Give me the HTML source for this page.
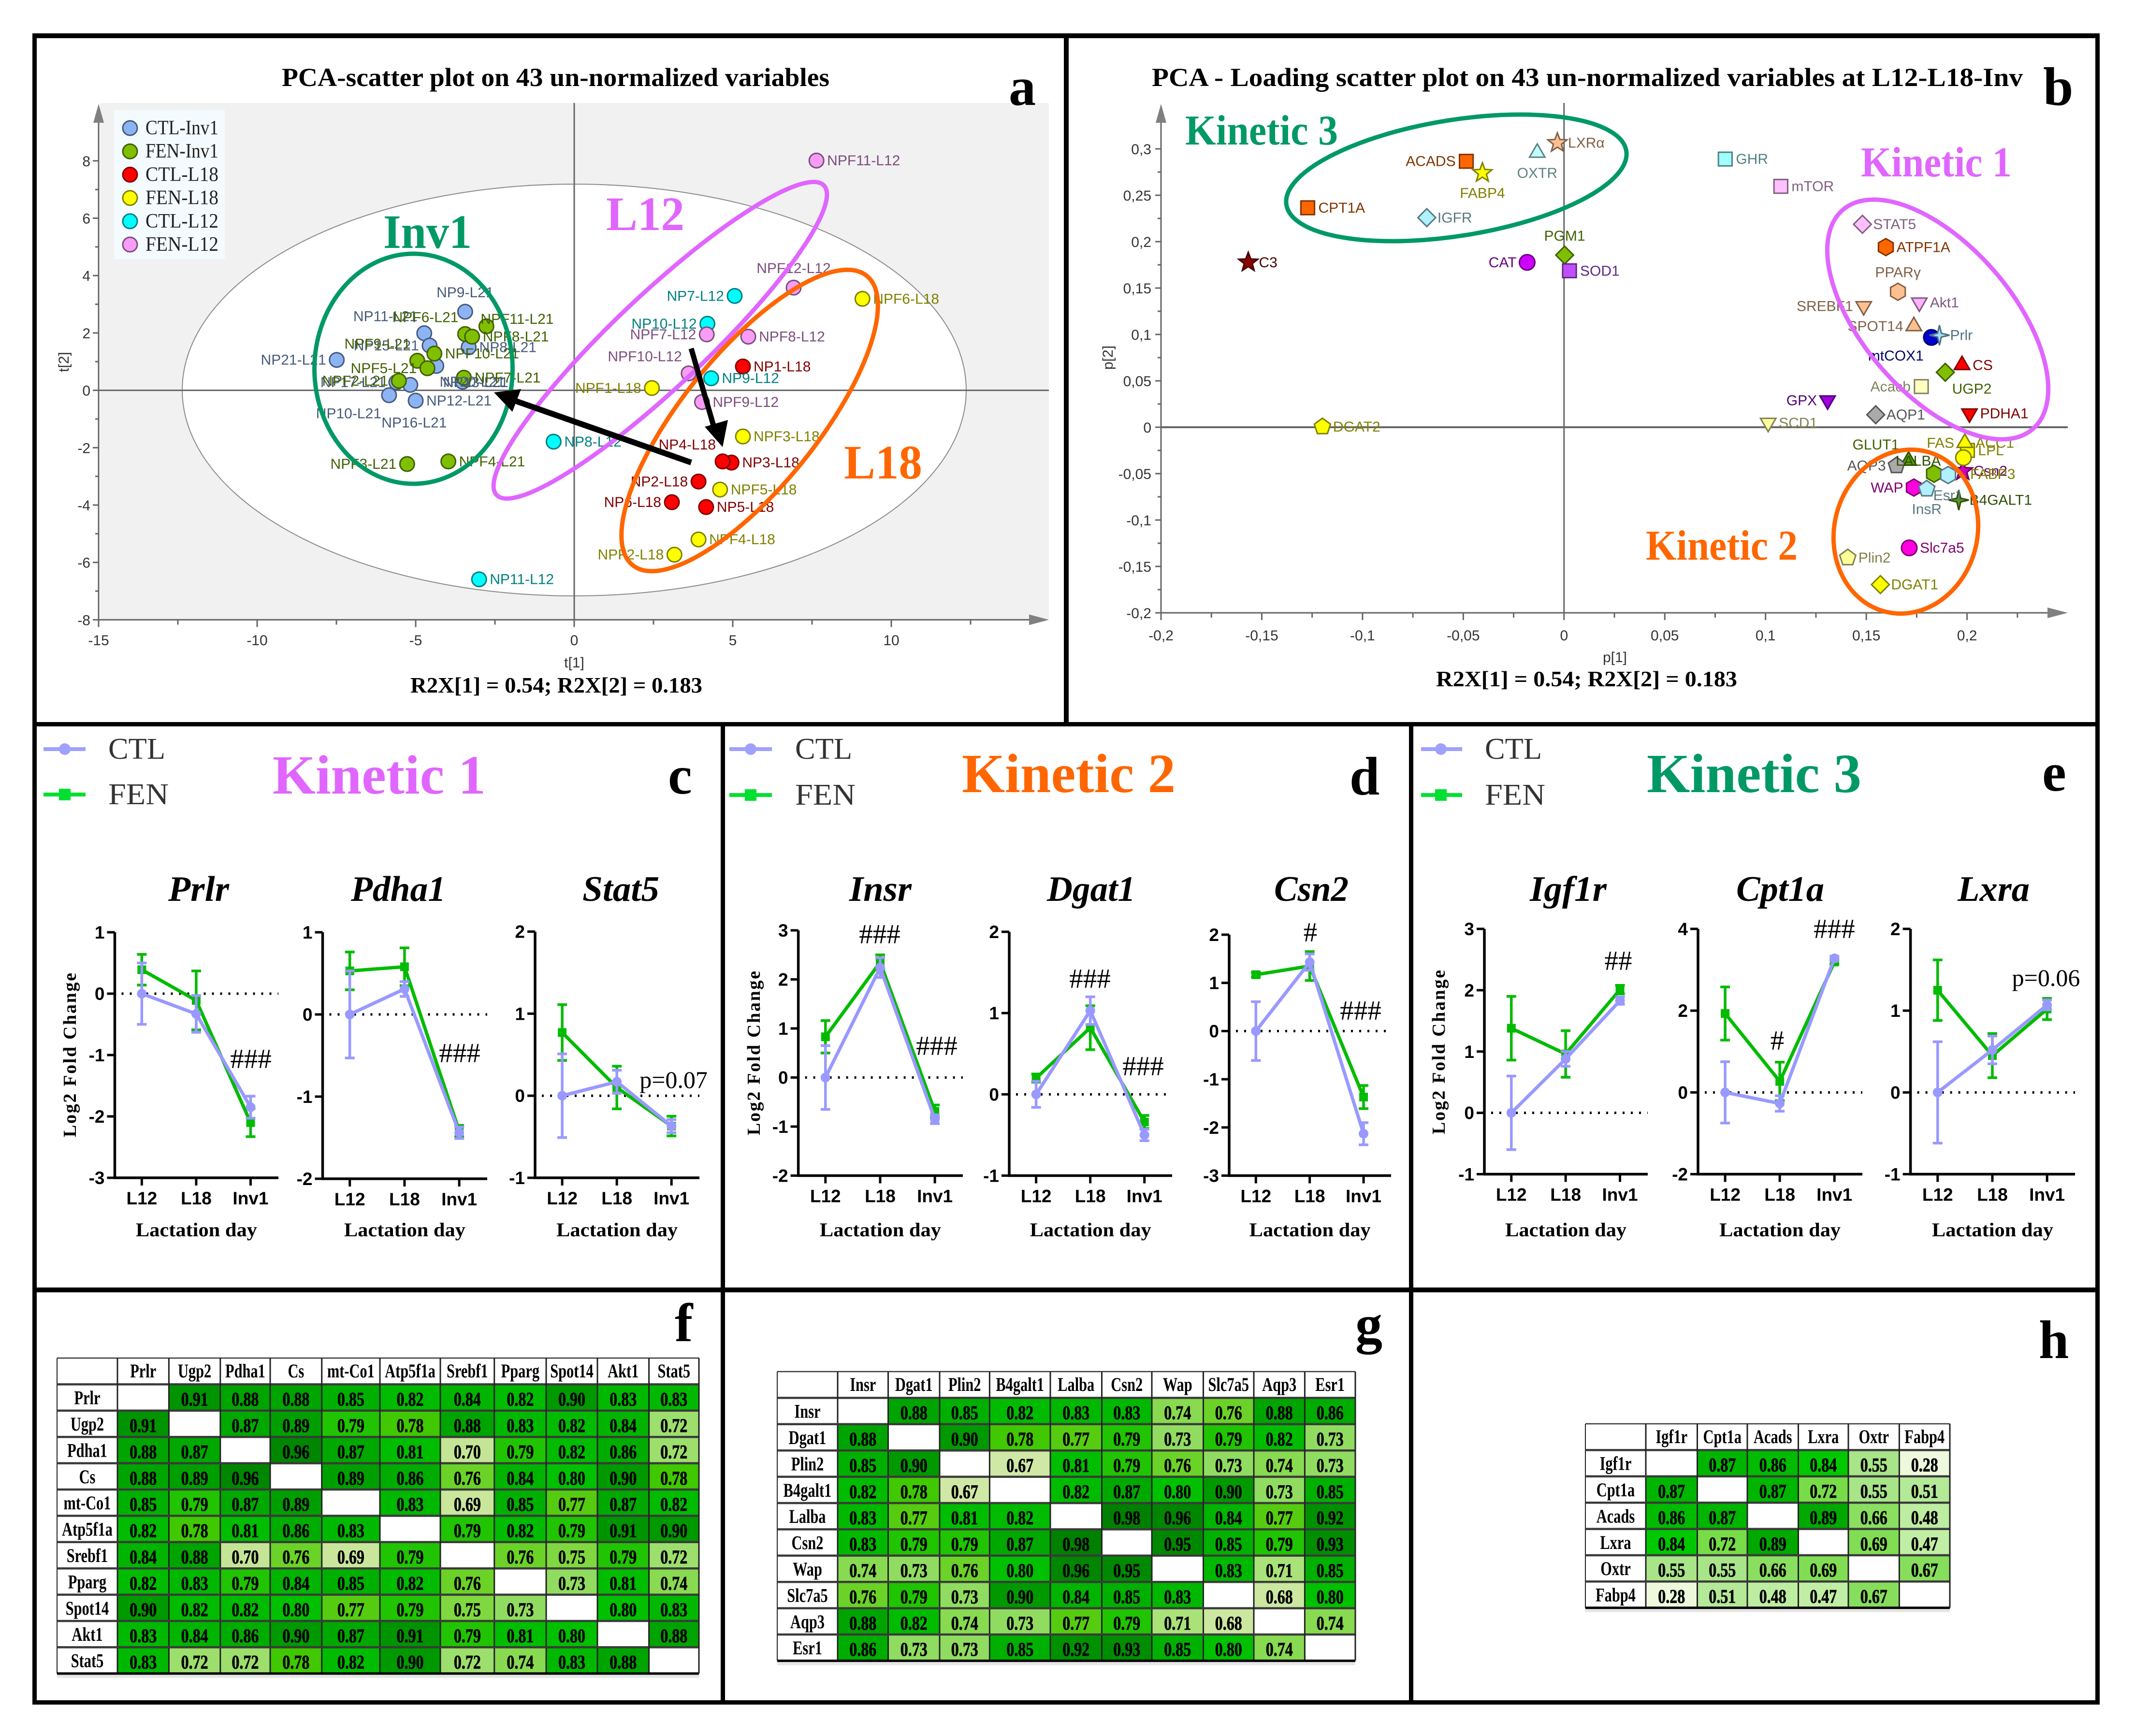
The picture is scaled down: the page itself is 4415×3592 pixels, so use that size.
<!DOCTYPE html>
<html lang="en">
<head>
<meta charset="utf-8">
<title>PCA scatter, kinetics and correlation figure</title>
<style>
html,body{margin:0;padding:0;background:#fff}
svg{display:block}
.serif{font-family:"Liberation Serif",serif}
.sans{font-family:"Liberation Sans",sans-serif}
.b{font-weight:bold}
.bi{font-weight:bold;font-style:italic}
</style>
</head>
<body>
<svg id="figure" xmlns="http://www.w3.org/2000/svg" width="4415" height="3592" viewBox="0 0 4415 3592">
<rect x="0" y="0" width="4415" height="3592" fill="#fff"/>

<g id="panelA">
  <rect x="207" y="213" width="1963" height="1069" fill="#f1f1f1"/>
  <ellipse cx="1188" cy="807" rx="811" ry="426" fill="#fff" stroke="#8a8a8a" stroke-width="2"/>
  <g id="scoreAxes"></g>
  <g id="scorePoints"></g>
  <ellipse cx="855.5" cy="763" rx="205" ry="238" fill="none" stroke="#009966" stroke-width="9"/>
  <ellipse cx="1366" cy="704" rx="466" ry="95" transform="rotate(-43.4 1366 704)" fill="none" stroke="#e066ff" stroke-width="9"/>
  <ellipse cx="1551" cy="870" rx="385" ry="139" transform="rotate(-51 1551 870)" fill="none" stroke="#ff6600" stroke-width="9"/>
  <g>
    <line x1="1430" y1="957" x2="1062" y2="828" stroke="#000" stroke-width="12"/>
    <polygon points="1022,812 1078,805 1060,852" fill="#000"/>
  </g>
  <g>
    <line x1="1430" y1="721" x2="1476" y2="880" stroke="#000" stroke-width="11"/>
    <polygon points="1495,925 1458,883 1506,869" fill="#000"/>
  </g>
  <g id="scoreLegend">
    <rect x="236" y="228" width="229" height="308" fill="#f4fbff"/>
  </g>
  <text class="serif b" x="583" y="178" font-size="54" textLength="1133" lengthAdjust="spacingAndGlyphs">PCA-scatter plot on 43 un-normalized variables</text>
  <text class="serif b" x="793" y="513" font-size="100" fill="#009966" textLength="183" lengthAdjust="spacingAndGlyphs">Inv1</text>
  <text class="serif b" x="1254" y="476" font-size="100" fill="#e066ff" textLength="162" lengthAdjust="spacingAndGlyphs">L12</text>
  <text class="serif b" x="1746" y="990" font-size="100" fill="#ff6600" textLength="162" lengthAdjust="spacingAndGlyphs">L18</text>
  <text class="serif b" x="2087" y="217" font-size="112">a</text>
  <text class="serif b" x="849" y="1433" font-size="46" textLength="604" lengthAdjust="spacingAndGlyphs">R2X[1] = 0.54; R2X[2] = 0.183</text>
</g>

<g id="panelB">
  <g id="loadingAxes"></g>
  <g id="loadingPoints"></g>
  <ellipse cx="3013" cy="368" rx="356" ry="120" transform="rotate(-9 3013 368)" fill="none" stroke="#009966" stroke-width="9"/>
  <ellipse cx="4009" cy="661" rx="300" ry="154" transform="rotate(49 4009 661)" fill="none" stroke="#e066ff" stroke-width="9"/>
  <ellipse cx="3943" cy="1100" rx="148" ry="171" transform="rotate(15 3943 1100)" fill="none" stroke="#ff6600" stroke-width="9"/>
  <text class="serif b" x="2383" y="178" font-size="54" textLength="1802" lengthAdjust="spacingAndGlyphs">PCA - Loading scatter plot on 43 un-normalized variables at L12-L18-Inv</text>
  <text class="serif b" x="2452" y="299" font-size="88" fill="#009966" textLength="316" lengthAdjust="spacingAndGlyphs">Kinetic 3</text>
  <text class="serif b" x="3850" y="365" font-size="88" fill="#e066ff" textLength="312" lengthAdjust="spacingAndGlyphs">Kinetic 1</text>
  <text class="serif b" x="3405" y="1158" font-size="88" fill="#ff6600" textLength="314" lengthAdjust="spacingAndGlyphs">Kinetic 2</text>
  <text class="serif b" x="4227" y="217" font-size="112">b</text>
  <text class="serif b" x="2971" y="1420" font-size="46" textLength="623" lengthAdjust="spacingAndGlyphs">R2X[1] = 0.54; R2X[2] = 0.183</text>
</g>

<g id="panelC">
  <g>
    <line x1="90" y1="1550" x2="177" y2="1550" stroke="#a0a0ff" stroke-width="8"/>
    <circle cx="134" cy="1550" r="12" fill="#a0a0ff"/>
    <text class="serif" x="224" y="1570" font-size="62" fill="#333" textLength="118" lengthAdjust="spacingAndGlyphs">CTL</text>
    <line x1="90" y1="1644" x2="177" y2="1644" stroke="#00e030" stroke-width="8"/>
    <rect x="122" y="1632" width="24" height="24" fill="#00e030"/>
    <text class="serif" x="224" y="1664" font-size="62" fill="#333" textLength="125" lengthAdjust="spacingAndGlyphs">FEN</text>
  </g>
  <text class="serif b" x="564" y="1642" font-size="114" fill="#e066ff" textLength="441" lengthAdjust="spacingAndGlyphs">Kinetic 1</text>
  <text class="serif b" x="1382" y="1642" font-size="112">c</text>
  <text class="serif b" transform="translate(157 2353) rotate(-90)" font-size="38" textLength="340" lengthAdjust="spacing">Log2 Fold Change</text>
</g>
<g id="panelD">
  <g>
    <line x1="1509" y1="1550" x2="1597" y2="1550" stroke="#a0a0ff" stroke-width="8"/>
    <circle cx="1553" cy="1550" r="12" fill="#a0a0ff"/>
    <text class="serif" x="1645" y="1570" font-size="62" fill="#333" textLength="118" lengthAdjust="spacingAndGlyphs">CTL</text>
    <line x1="1509" y1="1645" x2="1597" y2="1645" stroke="#00e030" stroke-width="8"/>
    <rect x="1541" y="1633" width="24" height="24" fill="#00e030"/>
    <text class="serif" x="1645" y="1665" font-size="62" fill="#333" textLength="125" lengthAdjust="spacingAndGlyphs">FEN</text>
  </g>
  <text class="serif b" x="1990" y="1639" font-size="114" fill="#ff6600" textLength="442" lengthAdjust="spacingAndGlyphs">Kinetic 2</text>
  <text class="serif b" x="2792" y="1644" font-size="112">d</text>
  <text class="serif b" transform="translate(1572 2349) rotate(-90)" font-size="38" textLength="340" lengthAdjust="spacing">Log2 Fold Change</text>
</g>
<g id="panelE">
  <g>
    <line x1="2940" y1="1550" x2="3025" y2="1550" stroke="#a0a0ff" stroke-width="8"/>
    <circle cx="2981" cy="1550" r="12" fill="#a0a0ff"/>
    <text class="serif" x="3072" y="1570" font-size="62" fill="#333" textLength="118" lengthAdjust="spacingAndGlyphs">CTL</text>
    <line x1="2940" y1="1645" x2="3025" y2="1645" stroke="#00e030" stroke-width="8"/>
    <rect x="2969" y="1633" width="24" height="24" fill="#00e030"/>
    <text class="serif" x="3072" y="1665" font-size="62" fill="#333" textLength="125" lengthAdjust="spacingAndGlyphs">FEN</text>
  </g>
  <text class="serif b" x="3407" y="1639" font-size="114" fill="#009966" textLength="444" lengthAdjust="spacingAndGlyphs">Kinetic 3</text>
  <text class="serif b" x="4225" y="1636" font-size="112">e</text>
  <text class="serif b" transform="translate(2989 2347) rotate(-90)" font-size="38" textLength="340" lengthAdjust="spacing">Log2 Fold Change</text>
</g>
<g id="lineCharts"></g>

<g id="heatmaps"></g>
<text class="serif b" x="1396" y="2775" font-size="112">f</text>
<text class="serif b" x="2804" y="2778" font-size="112">g</text>
<text class="serif b" x="4218" y="2810" font-size="112">h</text>

<g fill="#000">
  <rect x="67" y="69" width="4277" height="10"/>
  <rect x="67" y="3518" width="4277" height="9"/>
  <rect x="67" y="69" width="9" height="3458"/>
  <rect x="4335" y="69" width="9" height="3458"/>
  <rect x="67" y="1494" width="4277" height="9"/>
  <rect x="67" y="2664" width="4277" height="10"/>
  <rect x="2201" y="69" width="10" height="1434"/>
  <rect x="1491" y="1494" width="9" height="2033"/>
  <rect x="2915" y="1494" width="9" height="2033"/>
</g>
</svg>

<script>
// ---------- Panel a: PCA scores ----------
const scoreGroupNames = ['CTL-Inv1','FEN-Inv1','CTL-L18','FEN-L18','CTL-L12','FEN-L12'];
const scoreNames = ['NP9-L21','NP11-L21','NP15-L21','NP8-L21','NP21-L21','NP13-L21','NP17-L21','NP16-L21','NP10-L21','NP12-L21','NP20-L21',
 'NPF6-L21','NPF11-L21','NPF8-L21','NPF10-L21','NPF9-L21','NPF5-L21','NPF2-L21','NPF7-L21','NPF3-L21','NPF4-L21',
 'NP1-L18','NP3-L18','NP4-L18','NP2-L18','NP6-L18','NP5-L18',
 'NPF1-L18','NPF6-L18','NPF3-L18','NPF5-L18','NPF4-L18','NPF2-L18',
 'NP7-L12','NP10-L12','NP9-L12','NP8-L12','NP11-L12',
 'NPF11-L12','NPF12-L12','NPF7-L12','NPF8-L12','NPF10-L12','NPF9-L12'];
const scoreT1 = [-3.44,-4.73,-4.56,-3.33,-7.49,-4.35,-5.61,-5.17,-5.84,-5.0,-3.52,
 -3.44,-2.77,-3.22,-4.41,-4.95,-4.63,-5.53,-3.48,-5.27,-3.97,
 5.32,4.96,4.68,3.92,3.08,4.16,
 2.45,9.09,5.32,4.6,3.92,3.16,
 5.06,4.2,4.32,-0.65,-3.0,
 7.64,6.92,4.18,5.49,3.61,4.03];
const scoreT2 = [2.74,1.99,1.56,1.5,1.06,0.85,0.28,0.19,-0.17,-0.36,0.3,
 1.96,2.23,1.87,1.28,1.03,0.77,0.33,0.44,-2.57,-2.48,
 0.83,-2.52,-2.48,-3.18,-3.9,-4.07,
 0.08,3.19,-1.61,-3.46,-5.2,-5.73,
 3.29,2.32,0.42,-1.79,-6.59,
 8.01,3.58,1.95,1.87,0.59,-0.41];
const scoreGroup = [0,0,0,0,0,0,0,0,0,0,0, 1,1,1,1,1,1,1,1,1,1, 2,2,2,2,2,2, 3,3,3,3,3,3, 4,4,4,4,4, 5,5,5,5,5,5];
const scoreXTicks = [-15,-10,-5,0,5,10];
const scoreYTicks = [8,6,4,2,0,-2,-4,-6,-8];

// ---------- Panel b: PCA loadings ----------
const loadingNames = ['ACADS','OXTR','LXRα','FABP4','CPT1A','IGFR','GHR','mTOR','C3','PGM1','CAT','SOD1','STAT5','ATPF1A','PPARγ','Akt1','SREBF1','SPOT14','mtCOX1','Prlr','CS','UGP2','Acacb','GPX','AQP1','PDHA1','SCD1','DGAT2','Csn2','LPL','FAS','ACC1','FABP3','LALBA','AQP3','GLUT1','Esr1','WAP','InsR','B4GALT1','Slc7a5','Plin2','DGAT1'];
const loadingP1 = [-0.0485,-0.0133,-0.0033,-0.0405,-0.1272,-0.0681,0.08,0.1076,-0.1567,0.0003,-0.0183,0.0027,0.1481,0.1597,0.1657,0.1763,0.1487,0.1736,0.1823,0.1863,0.1975,0.1892,0.1773,0.1308,0.1547,0.2012,0.1013,-0.1199,0.1979,0.2002,0.1989,0.1989,0.1982,0.171,0.165,0.1836,0.1906,0.1736,0.18,0.1959,0.1713,0.1408,0.157];
const loadingP2 = [0.2866,0.2958,0.3064,0.2741,0.2365,0.2259,0.289,0.2596,0.1777,0.1855,0.1777,0.1686,0.2187,0.1941,0.146,0.1344,0.1305,0.1089,0.0968,0.0992,0.067,0.0592,0.0438,0.0289,0.0135,0.0149,0.0048,0.0005,-0.0472,-0.025,-0.0169,-0.0169,-0.0328,-0.0361,-0.0414,-0.0501,-0.0515,-0.065,-0.0665,-0.0785,-0.13,-0.1407,-0.1696];
const loadingXTicks = [-0.2,-0.15,-0.1,-0.05,0,0.05,0.1,0.15,0.2];
const loadingYTicks = [0.3,0.25,0.2,0.15,0.1,0.05,0,-0.05,-0.1,-0.15,-0.2];

// ---------- Panels c-e: log2 fold change ----------
const dayLabels = ['L12','L18','Inv1'];
const prlrCtl = [0,-0.33,-1.85];      const prlrCtlErr = [0.5,0.3,0.18];
const prlrFen = [0.39,-0.11,-2.1];    const prlrFenErr = [0.25,0.48,0.23];
const prlrTicks = [1,0,-1,-2,-3];
const pdha1Ctl = [0,0.31,-1.44];      const pdha1CtlErr = [0.53,0.09,0.07];
const pdha1Fen = [0.53,0.58,-1.42];   const pdha1FenErr = [0.23,0.23,0.07];
const pdha1Ticks = [1,0,-1,-2];
const stat5Ctl = [0,0.17,-0.37];      const stat5CtlErr = [0.51,0.14,0.08];
const stat5Fen = [0.77,0.1,-0.37];    const stat5FenErr = [0.34,0.26,0.12];
const stat5Ticks = [2,1,0,-1];
const insrCtl = [0,2.24,-0.85];       const insrCtlErr = [0.65,0.2,0.09];
const insrFen = [0.83,2.35,-0.69];    const insrFenErr = [0.33,0.15,0.13];
const insrTicks = [3,2,1,0,-1,-2];
const dgat1Ctl = [0,1.03,-0.5];       const dgat1CtlErr = [0.16,0.17,0.07];
const dgat1Fen = [0.2,0.82,-0.34];    const dgat1FenErr = [0.05,0.27,0.08];
const dgat1Ticks = [2,1,0,-1];
const csn2Ctl = [0,1.43,-2.13];       const csn2CtlErr = [0.61,0.17,0.23];
const csn2Fen = [1.17,1.35,-1.37];    const csn2FenErr = [0.05,0.3,0.24];
const csn2Ticks = [2,1,0,-1,-2,-3];
const igf1rCtl = [0,0.88,1.83];       const igf1rCtlErr = [0.6,0.12,0.06];
const igf1rFen = [1.38,0.96,2.01];    const igf1rFenErr = [0.52,0.38,0.07];
const igf1rTicks = [3,2,1,0,-1];
const cpt1aCtl = [0,-0.27,3.28];      const cpt1aCtlErr = [0.75,0.19,0.05];
const cpt1aFen = [1.93,0.27,3.19];    const cpt1aFenErr = [0.65,0.47,0.05];
const cpt1aTicks = [4,2,0,-2];
const lxraCtl = [0,0.52,1.07];        const lxraCtlErr = [0.62,0.17,0.06];
const lxraFen = [1.25,0.45,1.02];     const lxraFenErr = [0.37,0.27,0.13];
const lxraTicks = [2,1,0,-1];

// ---------- Panels f-h: correlation tables ----------
const tableFLabels = ['Prlr','Ugp2','Pdha1','Cs','mt-Co1','Atp5f1a','Srebf1','Pparg','Spot14','Akt1','Stat5'];
const tableFValues = [
 [null,.91,.88,.88,.85,.82,.84,.82,.90,.83,.83],
 [.91,null,.87,.89,.79,.78,.88,.83,.82,.84,.72],
 [.88,.87,null,.96,.87,.81,.70,.79,.82,.86,.72],
 [.88,.89,.96,null,.89,.86,.76,.84,.80,.90,.78],
 [.85,.79,.87,.89,null,.83,.69,.85,.77,.87,.82],
 [.82,.78,.81,.86,.83,null,.79,.82,.79,.91,.90],
 [.84,.88,.70,.76,.69,.79,null,.76,.75,.79,.72],
 [.82,.83,.79,.84,.85,.82,.76,null,.73,.81,.74],
 [.90,.82,.82,.80,.77,.79,.75,.73,null,.80,.83],
 [.83,.84,.86,.90,.87,.91,.79,.81,.80,null,.88],
 [.83,.72,.72,.78,.82,.90,.72,.74,.83,.88,null]];
const tableGLabels = ['Insr','Dgat1','Plin2','B4galt1','Lalba','Csn2','Wap','Slc7a5','Aqp3','Esr1'];
const tableGValues = [
 [null,.88,.85,.82,.83,.83,.74,.76,.88,.86],
 [.88,null,.90,.78,.77,.79,.73,.79,.82,.73],
 [.85,.90,null,.67,.81,.79,.76,.73,.74,.73],
 [.82,.78,.67,null,.82,.87,.80,.90,.73,.85],
 [.83,.77,.81,.82,null,.98,.96,.84,.77,.92],
 [.83,.79,.79,.87,.98,null,.95,.85,.79,.93],
 [.74,.73,.76,.80,.96,.95,null,.83,.71,.85],
 [.76,.79,.73,.90,.84,.85,.83,null,.68,.80],
 [.88,.82,.74,.73,.77,.79,.71,.68,null,.74],
 [.86,.73,.73,.85,.92,.93,.85,.80,.74,null]];
const tableHLabels = ['Igf1r','Cpt1a','Acads','Lxra','Oxtr','Fabp4'];
const tableHValues = [
 [null,.87,.86,.84,.55,.28],
 [.87,null,.87,.72,.55,.51],
 [.86,.87,null,.89,.66,.48],
 [.84,.72,.89,null,.69,.47],
 [.55,.55,.66,.69,null,.67],
 [.28,.51,.48,.47,.67,null]];

// ---------- Styling (no data below this line) ----------
const SVGNS = 'http://www.w3.org/2000/svg';
function add(parent, tag, attrs, text) {
  const e = document.createElementNS(SVGNS, tag);
  for (const k in attrs) e.setAttribute(k, attrs[k]);
  if (text !== undefined) e.textContent = text;
  parent.appendChild(e);
  return e;
}
function linear(d0, d1, r0, r1) { return v => r0 + (v - d0) * (r1 - r0) / (d1 - d0); }
function darken(hex) {
  const n = parseInt(hex.slice(1), 16);
  const c = [(n >> 16) & 255, (n >> 8) & 255, n & 255].map(v => Math.round(v * 0.5));
  return 'rgb(' + c.join(',') + ')';
}
const labelOffsets = {
  r:[22,10,'start'], l:[-22,10,'end'], t:[0,-30,'middle'], b:[0,52,'middle'], bb:[8,88,'middle'],
  tl:[-14,-25,'end'], tll:[-72,-50,'end'], tr:[-12,-5,'start'], br:[14,44,'start'], bl:[-16,48,'end'], c:[20,10,'middle']
};
const LABEL_SIZE = 30;
function placeLabel(parent, x, y, side, text, fill) {
  const o = labelOffsets[side];
  return add(parent, 'text', {x:x + o[0], y:y + o[1], 'text-anchor':o[2], 'font-size':LABEL_SIZE, fill:fill, class:'sans'}, text);
}

// ---------- Panel a render ----------
const scoreGroupFill = ['#8cb4f5','#80bf00','#ff0000','#ffff00','#00ffff','#f79cf7'];
const scoreSides = ['t','tl','l','r','l','br','l','bb','bl','r','c',
 'tl','tr','r','r','tl','l','l','r','l','r',
 'r','r','tl','l','l','r',
 'l','r','r','r','r','l',
 'l','l','r','r','r',
 'r','t','l','r','tl','r'];
const scoreX = linear(0, 10, 1188, 1844);
const scoreY = linear(0, 8, 807.6, 332.8);
(function drawScores() {
  const ax = document.getElementById('scoreAxes');
  const grey = '#666';
  const xBase = scoreY(-8);
  const zeroV = add(ax, 'line', {x1:scoreX(0), x2:scoreX(0), y1:213, y2:xBase, stroke:grey, 'stroke-width':3});
  
  
  const zeroH = add(ax, 'line', {x1:scoreX(-15), x2:2170, y1:scoreY(0), y2:scoreY(0), stroke:grey, 'stroke-width':3});
  
  
  const xa = add(ax, 'line', {x1:scoreX(-15), x2:2135, y1:xBase, y2:xBase, stroke:grey, 'stroke-width':3});
  
  
  const ya = add(ax, 'line', {x1:scoreX(-15), x2:scoreX(-15), y1:250, y2:xBase, stroke:grey, 'stroke-width':3});
  
  
  const xh = add(ax, 'polygon', {points:'2170,' + xBase + ' 2129,' + (xBase - 11) + ' 2129,' + (xBase + 11), fill:'#808080'});
  
  
  const yh = add(ax, 'polygon', {points:scoreX(-15) + ',215 ' + (scoreX(-15) - 11) + ',254 ' + (scoreX(-15) + 11) + ',254', fill:'#808080'});
  
  
  scoreXTicks.forEach(v => {
    const t = add(ax, 'line', {x1:scoreX(v), x2:scoreX(v), y1:xBase, y2:xBase + 15, stroke:grey, 'stroke-width':3});
    
    
    const m = add(ax, 'line', {x1:scoreX(v + 2.5), x2:scoreX(v + 2.5), y1:xBase, y2:xBase + 10, stroke:grey, 'stroke-width':3});
    
    
    const l = add(ax, 'text', {x:scoreX(v), y:1335, 'text-anchor':'middle', 'font-size':30, fill:'#333', class:'sans'}, String(v));
    
    
  });
  scoreYTicks.forEach(v => {
    const t = add(ax, 'line', {x1:scoreX(-15) - 12, x2:scoreX(-15), y1:scoreY(v), y2:scoreY(v), stroke:grey, 'stroke-width':3});
    
    
    if (v > -8) {
      const m = add(ax, 'line', {x1:scoreX(-15) - 7, x2:scoreX(-15), y1:scoreY(v - 1), y2:scoreY(v - 1), stroke:grey, 'stroke-width':3});
      
      
    }
    const l = add(ax, 'text', {x:187, y:scoreY(v) + 11, 'text-anchor':'end', 'font-size':30, fill:'#333', class:'sans'}, String(v));
    
    
  });
  const tx = add(ax, 'text', {x:1188, y:1381, 'text-anchor':'middle', 'font-size':30, fill:'#333', class:'sans'}, 't[1]');
  
  
  const ty = add(ax, 'text', {transform:'translate(142 749) rotate(-90)', 'text-anchor':'middle', 'font-size':30, fill:'#333', class:'sans'}, 't[2]');
  
  

  const pts = document.getElementById('scorePoints');
  scoreNames.forEach((name, i) => {
    const x = scoreX(scoreT1[i]), y = scoreY(scoreT2[i]);
    const fill = scoreGroupFill[scoreGroup[i]];
    const c = add(pts, 'circle', {cx:x, cy:y, r:15, fill:fill, stroke:darken(fill), 'stroke-width':3});
    
    
  });
  scoreNames.forEach((name, i) => {
    const x = scoreX(scoreT1[i]), y = scoreY(scoreT2[i]);
    const lab = placeLabel(pts, x, y, scoreSides[i], name, darken(scoreGroupFill[scoreGroup[i]]));
    
    
  });

  const leg = document.getElementById('scoreLegend');
  const rowY = linear(0, 5, 265, 506);
  scoreGroupNames.forEach((name, i) => {
    const fill = scoreGroupFill[i];
    const c = add(leg, 'circle', {cx:269, cy:rowY(i), r:15, fill:fill, stroke:darken(fill), 'stroke-width':3});
    
    
    const t = add(leg, 'text', {x:301, y:rowY(i) + 13, 'font-size':42, fill:'#222', class:'serif', textLength:151, lengthAdjust:'spacingAndGlyphs'}, name);
    
    
  });
})();

// ---------- Panel b render ----------
const loadingShapes = ['square','triangle','star','star','square','diamond','square','square','star','diamond','circle','square','diamond','hexagon','hexagon','tridown','tridown','triangle','circle','star4','triangle','diamond','square','tridown','diamond','tridown','tridown','pentagon','star','square','triangle','triangle','circle','triangle','pentagon','hexagon','hexagon','hexagon','pentagon','star4','circle','pentagon','diamond'];
const loadingFills = ['#ff6600','#c0ffff','#ffc090','#ffff00','#ff6600','#b0f0ff','#a0ffff','#ffc0ff','#8b0000','#7fbf00','#d000ff','#c050ff','#ffc0ff','#ff6600','#ffc090','#ffb0ff','#ffc090','#ffc090','#0000d0','#a0e0ff','#ff0000','#7fbf00','#ffffc0','#a000e0','#aaaaaa','#ff0000','#ffffa0','#ffff00','#d000c0','#ffff00','#ffff00','#ffff00','#ffff00','#5aa000','#aaaaaa','#7fbf00','#b0f0ff','#ff00e0','#b0f0ff','#5a9a10','#ff00e0','#ffff99','#ffff00'];
const loadingSides = ['l','b','r','b','r','r','r','r','r','t','l','r','r','r','t','r','l','l','bl','r','r','br','l','l','r','r','r','r','r','r','l','r','br','c','l','tll','b','l','b','r','r','r','r'];
const loadX = linear(0, 0.2, 3235.8, 4069.6);
const loadY = linear(0, 0.3, 884, 308);
function markerPath(shape, x, y, r) {
  function poly(n, rot, rad) {
    const out = [];
    for (let i = 0; i < n; i++) {
      const a = rot + i * 2 * Math.PI / n;
      out.push((x + rad * Math.cos(a)).toFixed(1) + ',' + (y + rad * Math.sin(a)).toFixed(1));
    }
    return out;
  }
  function star(n, outer, inner) {
    const out = [];
    for (let i = 0; i < 2 * n; i++) {
      const a = -Math.PI / 2 + i * Math.PI / n;
      const rad = i % 2 ? inner : outer;
      out.push((x + rad * Math.cos(a)).toFixed(1) + ',' + (y + rad * Math.sin(a)).toFixed(1));
    }
    return out;
  }
  const up = -Math.PI / 2;
  switch (shape) {
    case 'square': return poly(4, Math.PI / 4, r * 1.25);
    case 'diamond': return poly(4, up, r * 1.15);
    case 'triangle': return poly(3, up, r * 1.15);
    case 'tridown': return poly(3, Math.PI / 2, r * 1.15);
    case 'pentagon': return poly(5, up, r * 1.1);
    case 'hexagon': return poly(6, up, r * 1.1);
    case 'star': return star(5, r * 1.3, r * 0.55);
    case 'star4': return star(4, r * 1.3, r * 0.35);
  }
  return [];
}
(function drawLoadings() {
  const ax = document.getElementById('loadingAxes');
  const grey = '#666';
  const xBase = loadY(-0.2), yBase = loadX(-0.2);
  const zeroV = add(ax, 'line', {x1:loadX(0), x2:loadX(0), y1:213, y2:xBase, stroke:grey, 'stroke-width':3});
  
  
  const zeroH = add(ax, 'line', {x1:yBase, x2:4278, y1:loadY(0), y2:loadY(0), stroke:grey, 'stroke-width':4});
  
  
  const xa = add(ax, 'line', {x1:yBase, x2:4240, y1:xBase, y2:xBase, stroke:grey, 'stroke-width':3});
  
  
  const ya = add(ax, 'line', {x1:yBase, x2:yBase, y1:250, y2:xBase, stroke:grey, 'stroke-width':3});
  
  
  const xh = add(ax, 'polygon', {points:'4278,' + xBase + ' 4236,' + (xBase - 11) + ' 4236,' + (xBase + 11), fill:'#808080'});
  
  
  const yh = add(ax, 'polygon', {points:yBase + ',215 ' + (yBase - 11) + ',254 ' + (yBase + 11) + ',254', fill:'#808080'});
  
  
  const fmt = v => String(v).replace('.', ',');
  loadingXTicks.forEach(v => {
    const t = add(ax, 'line', {x1:loadX(v), x2:loadX(v), y1:xBase, y2:xBase + 15, stroke:grey, 'stroke-width':3});
    
    
    const m = add(ax, 'line', {x1:loadX(v + 0.025), x2:loadX(v + 0.025), y1:xBase, y2:xBase + 10, stroke:grey, 'stroke-width':3});
    
    
    const l = add(ax, 'text', {x:loadX(v), y:1325, 'text-anchor':'middle', 'font-size':30, fill:'#333', class:'sans'}, fmt(v));
    
    
  });
  loadingYTicks.forEach(v => {
    const t = add(ax, 'line', {x1:yBase - 12, x2:yBase, y1:loadY(v), y2:loadY(v), stroke:grey, 'stroke-width':3});
    
    
    if (v > -0.2) {
      const m = add(ax, 'line', {x1:yBase - 7, x2:yBase, y1:loadY(v - 0.025), y2:loadY(v - 0.025), stroke:grey, 'stroke-width':3});
      
      
    }
    const l = add(ax, 'text', {x:2382, y:loadY(v) + 11, 'text-anchor':'end', 'font-size':30, fill:'#333', class:'sans'}, fmt(v));
    
    
  });
  const tx = add(ax, 'text', {x:3341, y:1370, 'text-anchor':'middle', 'font-size':30, fill:'#333', class:'sans'}, 'p[1]');
  
  
  const ty = add(ax, 'text', {transform:'translate(2302 740) rotate(-90)', 'text-anchor':'middle', 'font-size':30, fill:'#333', class:'sans'}, 'p[2]');
  
  

  const pts = document.getElementById('loadingPoints');
  loadingNames.forEach((name, i) => {
    const x = loadX(loadingP1[i]), y = loadY(loadingP2[i]);
    const fill = loadingFills[i], stroke = darken(fill);
    let m;
    if (loadingShapes[i] === 'circle') {
      m = add(pts, 'circle', {cx:x, cy:y, r:16, fill:fill, stroke:stroke, 'stroke-width':3});
    } else {
      m = add(pts, 'polygon', {points:markerPath(loadingShapes[i], x, y, 16).join(' '), fill:fill, stroke:stroke, 'stroke-width':3});
    }
    
    
  });
  loadingNames.forEach((name, i) => {
    const x = loadX(loadingP1[i]), y = loadY(loadingP2[i]);
    const lab = placeLabel(pts, x, y, loadingSides[i], name, darken(loadingFills[i]));
    
    
  });
})();

// ---------- Panels c-e render ----------
const lineLayouts = [
 {title:'Prlr',  tx:[348,126],  left:237.5, right:576,  top:1929, bottom:2437,   ticks:prlrTicks,  ctl:prlrCtl,  ctlE:prlrCtlErr,  fen:prlrFen,  fenE:prlrFenErr,  notes:[['###',519,2210]]},
 {title:'Pdha1', tx:[726,196],  left:667.5, right:1008, top:1929, bottom:2439,   ticks:pdha1Ticks, ctl:pdha1Ctl, ctlE:pdha1CtlErr, fen:pdha1Fen, fenE:pdha1FenErr, notes:[['###',951,2198]]},
 {title:'Stat5', tx:[1205,159], left:1107,  right:1447, top:1927.6, bottom:2437, ticks:stat5Ticks, ctl:stat5Ctl, ctlE:stat5CtlErr, fen:stat5Fen, fenE:stat5FenErr, notes:[['p=0.07',1393.6,2251]]},
 {title:'Insr',  tx:[1757,129], left:1651.6,right:1992, top:1925, bottom:2432.5, ticks:insrTicks,  ctl:insrCtl,  ctlE:insrCtlErr,  fen:insrFen,  fenE:insrFenErr,  notes:[['###',1820,1952],['###',1938,2183]]},
 {title:'Dgat1', tx:[2166,183], left:2088,  right:2425, top:1928, bottom:2432.5, ticks:dgat1Ticks, ctl:dgat1Ctl, ctlE:dgat1CtlErr, fen:dgat1Fen, fenE:dgat1FenErr, notes:[['###',2255,2044],['###',2365,2225]]},
 {title:'Csn2',  tx:[2636,154], left:2543,  right:2878, top:1934, bottom:2432.5, ticks:csn2Ticks,  ctl:csn2Ctl,  ctlE:csn2CtlErr,  fen:csn2Fen,  fenE:csn2FenErr,  notes:[['#',2711,1948],['###',2815,2110]]},
 {title:'Igf1r', tx:[3165,159], left:3071,  right:3409, top:1922, bottom:2429.5, ticks:igf1rTicks, ctl:igf1rCtl, ctlE:igf1rCtlErr, fen:igf1rFen, fenE:igf1rFenErr, notes:[['##',3348,2007]]},
 {title:'Cpt1a', tx:[3592,182], left:3513,  right:3853, top:1922, bottom:2429.5, ticks:cpt1aTicks, ctl:cpt1aCtl, ctlE:cpt1aCtlErr, fen:cpt1aFen, fenE:cpt1aFenErr, notes:[['#',3677,2172],['###',3795,1941]]},
 {title:'Lxra',  tx:[4050,149], left:3952.6,right:4293, top:1922, bottom:2429.5, ticks:lxraTicks,  ctl:lxraCtl,  ctlE:lxraCtlErr,  fen:lxraFen,  fenE:lxraFenErr,  notes:[['p=0.06',4233,2040]]}
];
function drawSeries(g, catX, y, vals, errs, color, kind) {
  errs.forEach((e, i) => {
    const x = catX(i), hi = y(vals[i] + e), lo = y(vals[i] - e);
    const bar = add(g, 'path', {d:'M' + (x - 10) + ' ' + hi + 'H' + (x + 10) + 'M' + x + ' ' + hi + 'V' + lo + 'M' + (x - 10) + ' ' + lo + 'H' + (x + 10), stroke:color, 'stroke-width':5.5, fill:'none'});
    
    
  });
  const line = add(g, 'polyline', {points:vals.map((v, i) => catX(i) + ',' + y(v)).join(' '), fill:'none', stroke:color, 'stroke-width':7});
  
  
  vals.forEach((v, i) => {
    let m;
    if (kind === 'ctl') {
      m = add(g, 'circle', {cx:catX(i), cy:y(v), r:10, fill:color});
    } else {
      m = add(g, 'rect', {x:catX(i) - 9, y:y(v) - 9, width:18, height:18, fill:color});
    }
    
    
  });
}
(function drawLineCharts() {
  const root = document.getElementById('lineCharts');
  lineLayouts.forEach(c => {
    const g = add(root, 'g', {});
    
    
    const W = c.right - c.left;
    const catX = i => c.left + W * (0.165 + i * 0.3325);
    const y = linear(c.ticks[0], c.ticks[c.ticks.length - 1], c.top, c.bottom);
    const t = add(g, 'text', {x:c.tx[0], y:1864, 'font-size':74, class:'serif bi', textLength:c.tx[1], lengthAdjust:'spacingAndGlyphs'}, c.title);
    
    
    const zero = add(g, 'line', {x1:c.left + 14, x2:c.right, y1:y(0), y2:y(0), stroke:'#000', 'stroke-width':5, 'stroke-dasharray':'4 13'});
    
    
    const path = add(g, 'path', {d:'M' + c.left + ' ' + c.top + 'V' + c.bottom + 'H' + c.right, fill:'none', stroke:'#000', 'stroke-width':5.5});
    
    
    c.ticks.forEach(v => {
      const tk = add(g, 'line', {x1:c.left - 16, x2:c.left, y1:y(v), y2:y(v), stroke:'#000', 'stroke-width':5});
      
      
      const l = add(g, 'text', {x:c.left - 21, y:y(v) + 13, 'text-anchor':'end', 'font-size':37, class:'sans b'}, String(v));
      
      
    });
    dayLabels.forEach((d, i) => {
      const tk = add(g, 'line', {x1:catX(i), x2:catX(i), y1:c.bottom, y2:c.bottom + 16, stroke:'#000', 'stroke-width':5});
      
      
      const l = add(g, 'text', {x:catX(i), y:c.bottom + 55, 'text-anchor':'middle', 'font-size':37, class:'sans b'}, d);
      
      
    });
    const xt = add(g, 'text', {x:catX(1) - 125, y:2558, 'font-size':40, class:'serif b', textLength:251, lengthAdjust:'spacingAndGlyphs'}, 'Lactation day');
    
    
    drawSeries(g, catX, y, c.fen, c.fenE, '#00bb00', 'fen');
    drawSeries(g, catX, y, c.ctl, c.ctlE, '#9999ff', 'ctl');
    c.notes.forEach(n => {
      const size = n[0].charAt(0) === 'p' ? 50 : 57;
      const a = add(g, 'text', {x:n[1], y:n[2], 'text-anchor':'middle', 'font-size':size, class:'serif'}, n[0]);
      
      
    });
  });
})();

// ---------- Panels f-h render ----------
const scaleFG = [[.67,[208,232,165]],[.70,[197,229,150]],[.71,[170,226,122]],[.73,[144,220,96]],[.75,[128,216,64]],[.77,[85,204,16]],[.78,[64,200,0]],[.80,[0,192,0]],[.83,[0,184,0]],[.85,[0,176,0]],[.88,[0,164,0]],[.91,[0,148,0]],[.98,[0,128,0]]];
const scaleH = [[.28,[238,248,221]],[.47,[192,238,165]],[.55,[168,228,136]],[.66,[138,222,96]],[.72,[120,220,72]],[.84,[0,200,0]],[.89,[0,168,0]]];
function cellColor(v, scale) {
  if (v <= scale[0][0]) return 'rgb(' + scale[0][1].join(',') + ')';
  for (let i = 1; i < scale.length; i++) {
    if (v <= scale[i][0]) {
      const a = scale[i - 1], b = scale[i], f = (v - a[0]) / (b[0] - a[0]);
      return 'rgb(' + a[1].map((c, k) => Math.round(c + (b[1][k] - c) * f)).join(',') + ')';
    }
  }
  return 'rgb(' + scale[scale.length - 1][1].join(',') + ')';
}
function condense(t, k) {
  const len = t.getComputedTextLength();
  t.setAttribute('textLength', (len * k).toFixed(1));
  t.setAttribute('lengthAdjust', 'spacingAndGlyphs');
}
function drawTable(tag, edges, top, labels, values, scale) {
  const root = document.getElementById('heatmaps');
  const g = add(root, 'g', {});
  
  
  const rowH = 54.4, n = labels.length;
  const rowY = i => top + i * rowH;
  const bottom = rowY(n + 1);
  const shadow = add(g, 'rect', {x:edges[0], y:bottom, width:edges[n + 1] - edges[0], height:9, fill:'#e6e6e6'});
  
  
  values.forEach((row, r) => row.forEach((v, c) => {
    const x = edges[c + 1], w = edges[c + 2] - x, yy = rowY(r + 1);
    if (v !== null) {
      const cell = add(g, 'rect', {x:x, y:yy, width:w, height:rowH, fill:cellColor(v, scale)});
      
      
    }
  }));
  for (let i = 0; i <= n + 1; i++) {
    const h = add(g, 'line', {x1:edges[0], x2:edges[n + 1], y1:rowY(i), y2:rowY(i), stroke:i === n + 1 ? '#000' : '#3a3a3a', 'stroke-width':i === n + 1 ? 5 : (i === 0 ? 2.5 : 4.5)});
    
    
    const v = add(g, 'line', {x1:edges[i], x2:edges[i], y1:top, y2:bottom, stroke:'#222', 'stroke-width':i === 0 ? 2 : 3});
    
    
  }
  labels.forEach((lab, i) => {
    const h = add(g, 'text', {x:(edges[i + 1] + edges[i + 2]) / 2, y:rowY(0) + rowH / 2 + 13, 'text-anchor':'middle', 'font-size':40, class:'serif b'}, lab);
    
    
    condense(h, 0.76);
    const r = add(g, 'text', {x:(edges[0] + edges[1]) / 2, y:rowY(i + 1) + rowH / 2 + 14, 'text-anchor':'middle', 'font-size':40, class:'serif b'}, lab);
    
    
    condense(r, 0.76);
  });
  values.forEach((row, r) => row.forEach((v, c) => {
    if (v === null) return;
    const t = add(g, 'text', {x:(edges[c + 1] + edges[c + 2]) / 2, y:rowY(r + 1) + rowH / 2 + 17, 'text-anchor':'middle', 'font-size':40, class:'serif b', fill:'#000', stroke:'#000', 'stroke-width':0.8}, v.toFixed(2));
    
    
    condense(t, 0.8);
  }));
}
drawTable('f', [118,243,349.4,455.8,559,665.7,786,911,1022.7,1130,1236,1342.6,1446], 2810, tableFLabels, tableFValues, scaleFG);
drawTable('g', [1608,1733,1837.5,1944,2047.4,2173,2279.5,2383,2489.5,2594,2699.4,2804], 2838, tableGLabels, tableGValues, scaleFG);
drawTable('h', [3280,3405,3511.5,3615,3720.5,3824,3929.4,4034], 2946, tableHLabels, tableHValues, scaleH);
</script>
</body>
</html>
